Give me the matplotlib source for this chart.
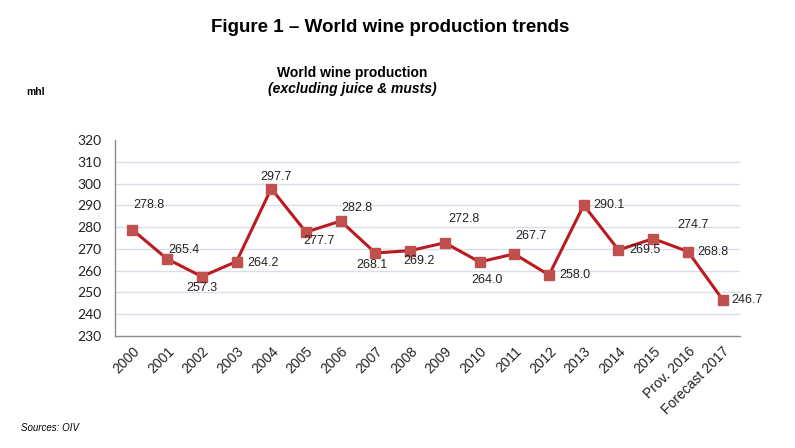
import matplotlib
matplotlib.use('Agg')
import matplotlib.pyplot as plt

# Data
years = ['2000', '2001', '2002', '2003', '2004', '2005', '2006', '2007', '2008',
         '2009', '2010', '2011', '2012', '2013', '2014', '2015', 'Prov. 2016',
         'Forecast 2017']
production = [278.8, 265.4, 257.3, 264.2, 297.7, 277.7, 282.8, 268.1, 269.2,
              272.8, 264.0, 267.7, 258.0, 290.1, 269.5, 274.7, 268.8, 246.7]
y_ticks = [230, 240, 250, 260, 270, 280, 290, 300, 310, 320]

# label offsets in pixels (dx, dy) relative to each point
label_offsets = [(17, 25), (17, 9), (0, -11), (26, -1), (5, 12), (13, -9),
                 (16, 13), (-3, -12), (9, -10), (19, 24), (7, -18), (17, 18),
                 (26, 0), (25, 0), (26, 0), (40, 14), (25, 0), (24, 0)]

fig = plt.figure(figsize=(7.95, 4.48), dpi=100)
ax = fig.add_axes([115 / 795, 1 - 336 / 448, 625 / 795, 196 / 448])

x = list(range(len(years)))
ax.plot(x, production, color='#BB1A1F', linewidth=2.2, marker='s',
        markersize=7.5, markerfacecolor='#C0504D', markeredgecolor='#C0504D',
        zorder=3)

for xi, val, (dx, dy) in zip(x, production, label_offsets):
    ax.annotate(f'{val:.1f}', (xi, val), xytext=(dx, dy),
                textcoords='offset pixels', ha='center', va='center',
                fontsize=9, family='Liberation Sans', color='#222222')

ax.set_xlim(-0.5, len(years) - 0.5)
ax.set_ylim(230, 320)
ax.set_yticks(y_ticks)
ax.set_yticklabels([str(t) for t in y_ticks], family='Lato', fontsize=10,
                   color='#222222')
ax.set_xticks(x)
ax.set_xticklabels(years, rotation=45, ha='right', rotation_mode='anchor',
                   family='Liberation Sans', fontsize=10, color='#222222')
ax.tick_params(axis='both', length=0)
ax.tick_params(axis='y', pad=9.5)
ax.tick_params(axis='x', pad=6)

ax.grid(axis='y', color='#D6DFEA', linewidth=1)
ax.set_axisbelow(True)
ax.get_ygridlines()[0].set_visible(False)
ax.get_ygridlines()[-1].set_visible(False)

for side in ['top', 'right']:
    ax.spines[side].set_visible(False)
for side in ['left', 'bottom']:
    ax.spines[side].set_color('#8C8C8C')
    ax.spines[side].set_linewidth(1)

# Titles and notes
fig.text(390 / 795, 1 - 28 / 448, 'Figure 1 \u2013 World wine production trends',
         ha='center', va='center', fontsize=13.5, fontweight='bold',
         family='Liberation Sans')
fig.text(352 / 795, 1 - 73 / 448, 'World wine production', ha='center',
         va='center', fontsize=10, fontweight='bold', family='Liberation Sans')
fig.text(352 / 795, 1 - 89 / 448, '(excluding juice & musts)', ha='center',
         va='center', fontsize=10, fontweight='bold', style='italic',
         family='Liberation Sans')
fig.text(26 / 795, 1 - 92 / 448, 'mhl', ha='left', va='center', fontsize=7.5,
         fontweight='bold', family='Liberation Sans')
fig.text(21 / 795, 1 - 428 / 448, 'Sources: OIV', ha='left', va='center',
         fontsize=7, style='italic', family='Liberation Sans')

fig.savefig('out.png', dpi=100, facecolor='white')
